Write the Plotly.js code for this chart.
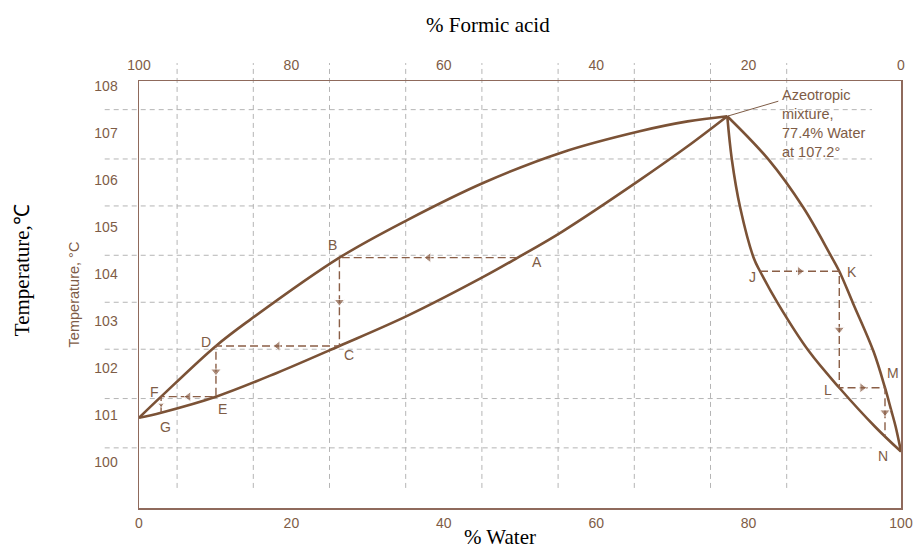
<!DOCTYPE html>
<html>
<head>
<meta charset="utf-8">
<script src="https://cdn.plot.ly/plotly-3.0.1.min.js"></script>
<style>html,body{margin:0;padding:0;background:#fff;}#chart{width:917px;height:555px;}</style>
</head>
<body>
<div id="chart"></div>
<script>
// ---- data ----
// % water vs temperature (°C), vapour (upper) and liquid (lower) curves
const vapLeftW  = [0, 2.9, 10.1, 14.6, 26.3, 35.2, 45.3, 55.5, 65.7, 72, 77.2];
const vapLeftT  = [100.94, 101.39, 102.47, 103.03, 104.35, 105.15, 105.95, 106.59, 107.04, 107.25, 107.36];
const liqLeftW  = [0, 2.9, 10.1, 18, 26.3, 35.2, 45.3, 49.7, 55.5, 65.7, 72, 77.2];
const liqLeftT  = [100.94, 101.05, 101.39, 101.89, 102.47, 103.11, 103.95, 104.35, 104.9, 106.0, 106.72, 107.36];
const vapRightW = [77.2, 82.6, 87.2, 90.7, 91.9, 93.7, 96.4, 97.9, 98.7, 99.3, 100];
const vapRightT = [107.36, 106.44, 105.41, 104.42, 104.06, 103.38, 102.35, 101.58, 101.11, 100.75, 100.22];
const liqRightW = [77.2, 77.8, 78.9, 80.7, 81.5, 83.9, 87.9, 91.9, 96.6, 100];
const liqRightT = [107.36, 106.44, 105.41, 104.33, 104.06, 103.36, 102.36, 101.58, 100.75, 100.22];

// distillation steps
const stepLeftW  = [49.7, 26.3, 26.3, 10.1, 10.1, 2.9, 2.9];
const stepLeftT  = [104.35, 104.35, 102.47, 102.47, 101.39, 101.39, 101.05];
const stepLeftLabels = ['A', 'B', 'C', 'D', 'E', 'F', 'G'];
const stepRightW = [81.5, 91.9, 91.9, 97.9, 97.9];
const stepRightT = [104.06, 104.06, 101.58, 101.58, 100.54];
const stepRightLabels = ['J', 'K', 'L', 'M', 'N'];

// azeotrope
const azeoW = 77.2, azeoT = 107.36;
const azeoText = 'Azeotropic<br>mixture,<br>77.4% Water<br>at 107.2°';

// axes ticks
const waterTicks  = [0, 20, 40, 60, 80, 100];
const formicTicks = [0, 20, 40, 60, 80, 100];
const tempTicks   = [100, 101, 102, 103, 104, 105, 106, 107, 108];
const gridW = [5, 15, 25, 35, 45, 55, 65, 75, 85];
const gridT = [100.3, 101.35, 102.4, 103.4, 104.4, 105.45, 106.45, 107.5];

// ---- styles ----
const curveColor = '#7b5236';
const stepColor = '#8a5e46';
const textBrown = '#7e5c46';
const gridColor = '#b5b5b5';
const frameColor = '#8f6a5c';
const labelOffsets = {
  A: [19, -4], B: [-7, 13], C: [10, -9], D: [-10, 4], E: [7, -12], F: [-7, 5], G: [4, -14],
  J: [-8, -6], K: [13, -1], L: [-11, -2], M: [8, 15], N: [-2, -19]
};

function curve(x, y) {
  return {x: x, y: y, mode: 'lines', line: {color: curveColor, width: 2.6, shape: 'spline', smoothing: 1},
          hoverinfo: 'skip', showlegend: false};
}
function steps(x, y) {
  return {x: x, y: y, mode: 'lines', line: {color: stepColor, width: 1.4, dash: '8px,4px'},
          hoverinfo: 'skip', showlegend: false};
}
function arrows(x, y) {
  const ax = [], ay = [], sym = [], sz = [];
  for (let i = 0; i < x.length - 1; i++) {
    ax.push((x[i] + x[i + 1]) / 2);
    ay.push((y[i] + y[i + 1]) / 2);
    const dx = x[i + 1] - x[i], dy = y[i + 1] - y[i];
    sym.push(dx < 0 ? 'triangle-left' : dx > 0 ? 'triangle-right' : (dy < 0 ? 'triangle-down' : 'triangle-up'));
    sz.push((Math.abs(dx) < 1 && Math.abs(dy) < 0.4) ? 6 : 9);
  }
  return {x: ax, y: ay, mode: 'markers', marker: {symbol: sym, size: sz, color: stepColor},
          hoverinfo: 'skip', showlegend: false};
}
function pointLabels(x, y, labels) {
  return labels.map((t, i) => ({
    x: x[i], y: y[i], xref: 'x', yref: 'y', text: t, showarrow: false,
    xshift: labelOffsets[t][0], yshift: labelOffsets[t][1],
    font: {family: 'Liberation Sans, Arial, sans-serif', size: 14, color: textBrown}
  }));
}

const data = [
  curve(vapLeftW, vapLeftT), curve(liqLeftW, liqLeftT),
  curve(vapRightW, vapRightT), curve(liqRightW, liqRightT),
  steps(stepLeftW, stepLeftT), steps(stepRightW, stepRightT),
  arrows(stepLeftW, stepLeftT), arrows(stepRightW, stepRightT),
  {x: formicTicks, y: formicTicks.map(() => null), xaxis: 'x2', mode: 'none', hoverinfo: 'skip', showlegend: false}
];

const shapes = [];
gridW.forEach(w => shapes.push({type: 'line', xref: 'x', yref: 'paper', x0: w, x1: w, y0: 0.047, y1: 1.042,
  layer: 'below', line: {color: gridColor, width: 1, dash: '5px,4px'}}));
gridT.forEach(t => shapes.push({type: 'line', xref: 'paper', yref: 'y', x0: -0.045, x1: 0.962, y0: t, y1: t,
  layer: 'below', line: {color: gridColor, width: 1, dash: '5px,4px'}}));
shapes.push({type: 'line', xref: 'x', yref: 'y', x0: azeoW, y0: azeoT, x1: 83.9, y1: 107.68,
  line: {color: textBrown, width: 1}});

const tickFont = {family: 'Liberation Sans, Arial, sans-serif', size: 14, color: textBrown};
const serif = {family: 'Liberation Serif, Times New Roman, serif', size: 21, color: '#000'};

const annotations = [].concat(
  pointLabels(stepLeftW, stepLeftT, stepLeftLabels),
  pointLabels(stepRightW, stepRightT, stepRightLabels),
  [
    {x: 84.1, y: 108.02, xref: 'x', yref: 'y', xanchor: 'left', yanchor: 'top', align: 'left',
     text: azeoText, showarrow: false,
     font: {family: 'Liberation Sans, Arial, sans-serif', size: 14.5, color: textBrown}},
    {x: 0.458, y: 1.131, xref: 'paper', yref: 'paper', xanchor: 'center', yanchor: 'middle',
     text: '% Formic acid', showarrow: false, font: serif},
    {x: 0.474, y: -0.068, xref: 'paper', yref: 'paper', xanchor: 'center', yanchor: 'middle',
     text: '% Water', showarrow: false, font: serif},
    {x: -0.1535, y: 0.557, xref: 'paper', yref: 'paper', xanchor: 'center', yanchor: 'middle',
     text: 'Temperature,℃', textangle: -90, showarrow: false, font: serif}
  ]
);

const layout = {
  width: 917, height: 555,
  margin: {l: 139, r: 16, t: 81, b: 47, pad: 0},
  paper_bgcolor: '#ffffff', plot_bgcolor: 'rgba(0,0,0,0)',
  showlegend: false,
  xaxis: {range: [0, 100], tickvals: waterTicks, showgrid: false, zeroline: false,
          showline: true, mirror: true, linecolor: frameColor, linewidth: 1.5,
          ticks: 'outside', ticklen: 2, tickcolor: 'rgba(0,0,0,0)', tickfont: tickFont},
  xaxis2: {overlaying: 'x', side: 'top', range: [100, 0], tickvals: formicTicks, showgrid: false,
           zeroline: false, showline: false, ticks: 'outside', ticklen: 4, tickcolor: 'rgba(0,0,0,0)',
           tickfont: tickFont},
  yaxis: {range: [99.02, 108.11], tickvals: tempTicks, showgrid: false, zeroline: false,
          showline: true, mirror: true, linecolor: frameColor, linewidth: 1.5,
          ticks: 'outside', ticklen: 17, tickcolor: 'rgba(0,0,0,0)', tickfont: tickFont,
          title: {text: 'Temperature, °C', standoff: 11,
                  font: {family: 'Liberation Sans, Arial, sans-serif', size: 14.5, color: textBrown}}},
  shapes: shapes,
  annotations: annotations
};

Plotly.newPlot('chart', data, layout, {staticPlot: true, displayModeBar: false});
</script>
</body>
</html>
